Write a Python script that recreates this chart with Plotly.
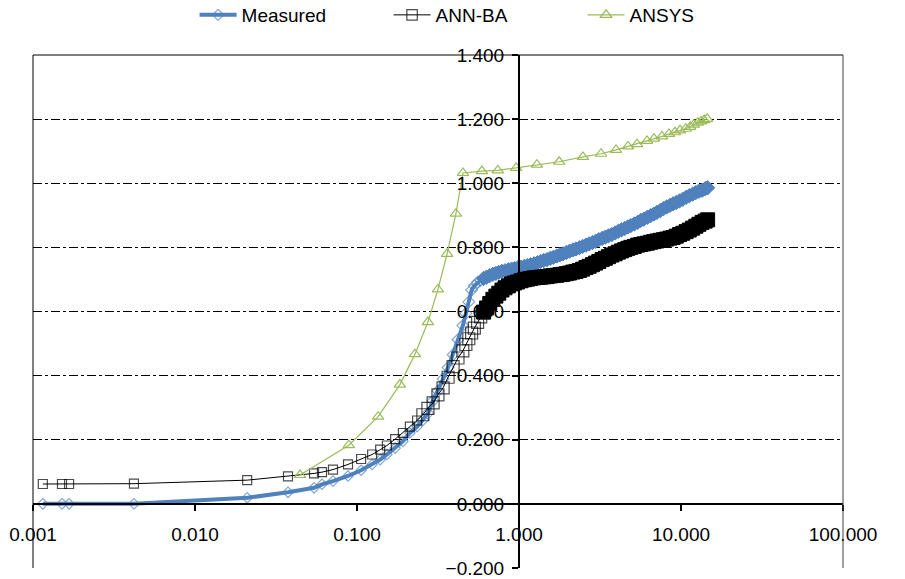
import plotly.graph_objects as go

# ---- data ----
x_meas = [0.00115, 0.00151, 0.00167, 0.0042, 0.021, 0.0375, 0.0543, 0.0608, 0.0711, 0.088,
          0.106, 0.124, 0.139, 0.153, 0.172, 0.192, 0.212, 0.235, 0.255, 0.274,
          0.295, 0.316, 0.340, 0.365, 0.392, 0.420,
          0.45, 0.47, 0.49, 0.51, 0.53, 0.555, 0.58, 0.605, 0.63, 0.66,
          0.69, 0.72, 0.75, 0.785, 0.82, 0.86, 0.90, 0.94, 0.98, 1.03,
          1.08, 1.13, 1.18, 1.24, 1.30, 1.36, 1.42, 1.49, 1.56, 1.63,
          1.71, 1.79, 1.87, 1.96, 2.05, 2.15, 2.25, 2.36, 2.47, 2.59,
          2.71, 2.84, 2.97, 3.11, 3.26, 3.41, 3.57, 3.74, 3.92, 4.1,
          4.3, 4.5, 4.7, 4.9, 5.15, 5.4, 5.65, 5.9, 6.2, 6.5,
          6.8, 7.1, 7.45, 7.8, 8.15, 8.55, 8.95, 9.35, 9.8, 10.25,
          10.75, 11.25, 11.8, 12.35, 12.9, 13.5, 14.1, 14.6]

y_measured = [0.0, 0.0, 0.0, 0.0, 0.019, 0.036, 0.050, 0.061, 0.071, 0.087,
              0.105, 0.123, 0.138, 0.154, 0.174, 0.195, 0.221, 0.241, 0.262, 0.283,
              0.322, 0.352, 0.390, 0.425, 0.465, 0.512,
              0.556, 0.594, 0.630, 0.667, 0.680, 0.691, 0.697, 0.703, 0.707, 0.712,
              0.716, 0.719, 0.722, 0.725, 0.727, 0.730, 0.732, 0.734, 0.736, 0.738,
              0.741, 0.743, 0.746, 0.749, 0.752, 0.756, 0.759, 0.762, 0.766, 0.769,
              0.773, 0.777, 0.780, 0.784, 0.788, 0.792, 0.795, 0.799, 0.803, 0.807,
              0.811, 0.815, 0.819, 0.824, 0.828, 0.832, 0.836, 0.840, 0.845, 0.850,
              0.855, 0.859, 0.864, 0.868, 0.873, 0.878, 0.884, 0.888, 0.894, 0.899,
              0.904, 0.909, 0.915, 0.921, 0.926, 0.931, 0.936, 0.940, 0.945, 0.950,
              0.956, 0.961, 0.966, 0.971, 0.975, 0.978, 0.983, 0.986]

y_annba = [0.062, 0.062, 0.062, 0.063, 0.074, 0.086, 0.095, 0.099, 0.107, 0.123,
           0.140, 0.154, 0.169, 0.182, 0.202, 0.221, 0.241, 0.260, 0.278, 0.298,
           0.315, 0.340, 0.362, 0.395, 0.428, 0.455,
           0.477, 0.497, 0.515, 0.533, 0.548, 0.566, 0.583, 0.598, 0.611, 0.625,
           0.638, 0.648, 0.657, 0.667, 0.674, 0.680, 0.686, 0.689, 0.692, 0.696,
           0.699, 0.701, 0.703, 0.705, 0.706, 0.707, 0.708, 0.709, 0.711, 0.712,
           0.713, 0.715, 0.716, 0.718, 0.720, 0.723, 0.725, 0.728, 0.732, 0.737,
           0.741, 0.746, 0.751, 0.756, 0.762, 0.766, 0.771, 0.776, 0.780, 0.785,
           0.789, 0.793, 0.797, 0.800, 0.803, 0.807, 0.809, 0.811, 0.813, 0.816,
           0.818, 0.820, 0.822, 0.824, 0.826, 0.829, 0.831, 0.835, 0.840, 0.844,
           0.849, 0.854, 0.860, 0.866, 0.872, 0.878, 0.882, 0.886]

x_ansys = [0.0445, 0.089, 0.135, 0.184, 0.228, 0.274, 0.316, 0.36, 0.408, 0.451,
           0.59, 0.74, 0.96, 1.29, 1.77, 2.48, 3.21, 3.97, 4.71, 5.35,
           6.17, 6.81, 7.63, 8.43, 9.18, 9.86, 10.7, 11.4, 12.0, 12.7,
           13.3, 13.9, 14.5]
y_ansys = [0.090, 0.183, 0.272, 0.372, 0.467, 0.567, 0.669, 0.780, 0.905, 1.032,
           1.038, 1.040, 1.048, 1.058, 1.067, 1.082, 1.092, 1.104, 1.115, 1.122,
           1.132, 1.139, 1.146, 1.154, 1.159, 1.165, 1.170, 1.176, 1.183, 1.189,
           1.193, 1.197, 1.201]

x_tickvals = [0.001, 0.01, 0.1, 1, 10, 100]
x_ticktext = ["0.001", "0.010", "0.100", "1.000", "10.000", "100.000"]

FONT = "Liberation Sans, Arial, sans-serif"
BLUE = "#4F81BD"
GREEN = "#9BBB59"

# where the recorded points crowd together (x >= 0.6) their markers merge into a solid band
split = next(i for i, v in enumerate(x_meas) if v >= 0.6)


def open_sizes(xs, sparse, mid):
    return [sparse if v < 0.25 else mid for v in xs]


fig = go.Figure()
# Measured
fig.add_trace(go.Scatter(
    x=x_meas[:split + 1], y=y_measured[:split + 1], name="Measured", legendgroup="m",
    mode="lines+markers", line=dict(color=BLUE, width=4),
    marker=dict(symbol="diamond-open", size=open_sizes(x_meas[:split + 1], 8, 9),
                color=BLUE, line=dict(width=1.2, color=BLUE))))
fig.add_trace(go.Scatter(
    x=x_meas[split:], y=y_measured[split:], name="Measured", legendgroup="m", showlegend=False,
    mode="lines+markers", line=dict(color=BLUE, width=4),
    marker=dict(symbol="diamond", size=11, color=BLUE, line=dict(width=1, color=BLUE))))
# ANN-BA
fig.add_trace(go.Scatter(
    x=x_meas[:split + 1], y=y_annba[:split + 1], name="ANN-BA", legendgroup="a",
    mode="lines+markers", line=dict(color="#000000", width=1),
    marker=dict(symbol="square-open", size=open_sizes(x_meas[:split + 1], 9, 12),
                color="#000000", line=dict(width=1.2, color="#000000"))))
fig.add_trace(go.Scatter(
    x=x_meas[split:], y=y_annba[split:], name="ANN-BA", legendgroup="a", showlegend=False,
    mode="lines+markers", line=dict(color="#000000", width=1),
    marker=dict(symbol="square", size=14, color="#000000", line=dict(width=1, color="#000000"))))
# ANSYS
fig.add_trace(go.Scatter(
    x=x_ansys, y=y_ansys, name="ANSYS", legendgroup="s", mode="lines+markers",
    line=dict(color=GREEN, width=1.2),
    marker=dict(symbol="triangle-up-open", size=10, color=GREEN, line=dict(width=1.2))))

fig.update_layout(
    width=905, height=579,
    margin=dict(l=33, r=62, t=55, b=11, autoexpand=False),
    paper_bgcolor="white", plot_bgcolor="white",
    font=dict(family=FONT, size=19, color="black"),
    showlegend=True,
    legend=dict(orientation="h", xref="container", yref="container",
                x=0.215, xanchor="left", y=1 - 15 / 579, yanchor="middle",
                font=dict(size=19), itemwidth=37, entrywidth=142,
                bgcolor="rgba(0,0,0,0)", traceorder="normal"),
    xaxis=dict(type="log", range=[-3, 2], tickvals=x_tickvals, ticktext=x_ticktext,
               showgrid=False, zeroline=False, showline=True, linecolor="black", linewidth=2,
               ticks="outside", ticklen=6, tickcolor="black", tickwidth=1.5,
               anchor="free", position=0.125, ticklabelstandoff=7, automargin=False),
    yaxis=dict(range=[-0.2, 1.4], dtick=0.2, tick0=0, tickformat=".3f",
               showgrid=True, gridcolor="black", gridwidth=1, griddash="dashdot",
               zeroline=False, showline=True, linecolor="black", linewidth=2,
               ticks="outside", ticklen=6, tickcolor="black", tickwidth=1.5,
               anchor="free", position=0.6, ticklabelstandoff=4, automargin=False,
               ticklabeloverflow="allow"),
    shapes=[
        dict(type="line", xref="paper", yref="paper", x0=0, x1=1, y0=1, y1=1,
             line=dict(color="black", width=1)),
        dict(type="line", xref="paper", yref="paper", x0=0, x1=0, y0=0, y1=1,
             line=dict(color="black", width=1)),
        dict(type="line", xref="paper", yref="paper", x0=1, x1=1, y0=0, y1=1,
             line=dict(color="#404040", width=1)),
    ],
)

fig.write_html("out.html", config={"displayModeBar": False},
               post_script="document.body.style.margin='0';")
